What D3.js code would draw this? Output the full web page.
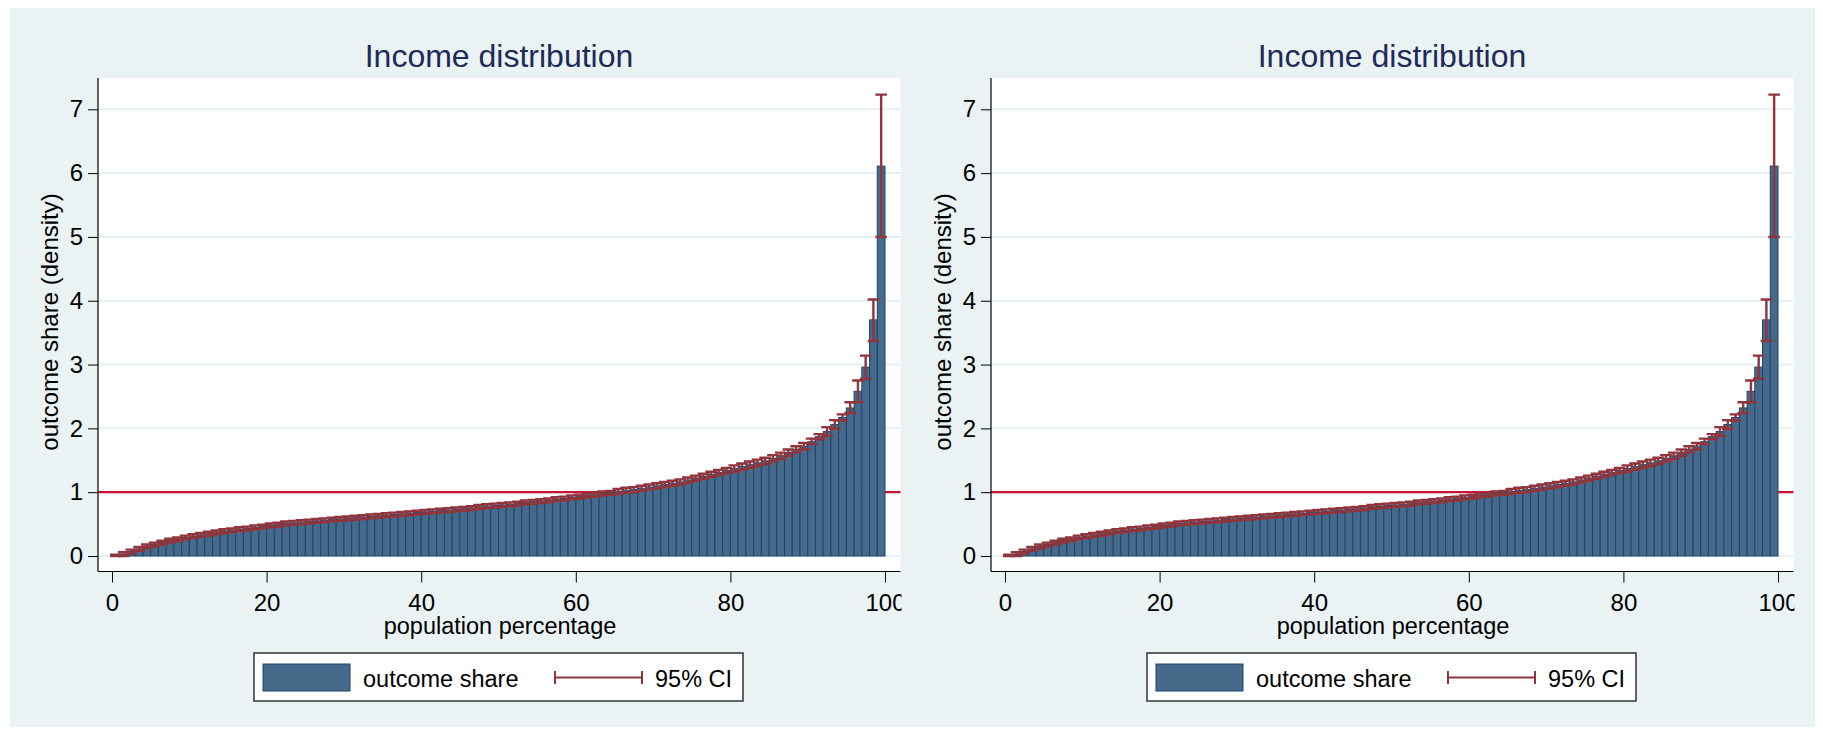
<!DOCTYPE html>
<html>
<head>
<meta charset="utf-8">
<script src="https://cdn.jsdelivr.net/npm/d3@7"></script>
<style>
    body { margin: 0; background: #fff; }
    svg text { font-family: "Liberation Sans", Arial, Helvetica, sans-serif; }
</style>
</head>
<body>
<div class="chart"></div>
<script>
(function(){

    // percentile groups 1..100 (bar i covers i-1 .. i)
    var percentiles = d3.range(1, 101);

    var outcomeShare = [
        0.00, 0.03, 0.07, 0.11, 0.15, 0.18, 0.21, 0.24, 0.26, 0.29,
        0.31, 0.33, 0.35, 0.37, 0.39, 0.40, 0.42, 0.43, 0.45, 0.46,
        0.48, 0.49, 0.51, 0.52, 0.53, 0.54, 0.55, 0.56, 0.57, 0.58,
        0.59, 0.60, 0.61, 0.62, 0.63, 0.64, 0.65, 0.66, 0.67, 0.68,
        0.69, 0.70, 0.71, 0.72, 0.73, 0.74, 0.75, 0.77, 0.78, 0.79,
        0.80, 0.81, 0.82, 0.84, 0.85, 0.86, 0.87, 0.89, 0.90, 0.92,
        0.93, 0.95, 0.96, 0.98, 0.99, 1.01, 1.03, 1.04, 1.06, 1.08,
        1.10, 1.12, 1.14, 1.16, 1.19, 1.22, 1.25, 1.28, 1.31, 1.34,
        1.37, 1.40, 1.43, 1.46, 1.49, 1.53, 1.57, 1.62, 1.67, 1.72,
        1.79, 1.87, 1.95, 2.06, 2.17, 2.32, 2.58, 2.96, 3.70, 6.11
    ];

    var ciLow = [
        0.00, 0.00, 0.04, 0.08, 0.12, 0.15, 0.18, 0.21, 0.23, 0.26,
        0.28, 0.30, 0.32, 0.34, 0.36, 0.37, 0.39, 0.40, 0.42, 0.43,
        0.45, 0.46, 0.48, 0.49, 0.50, 0.51, 0.52, 0.53, 0.54, 0.55,
        0.56, 0.57, 0.58, 0.59, 0.60, 0.61, 0.62, 0.63, 0.64, 0.65,
        0.66, 0.67, 0.68, 0.69, 0.70, 0.71, 0.72, 0.74, 0.75, 0.76,
        0.77, 0.78, 0.79, 0.81, 0.82, 0.83, 0.84, 0.86, 0.87, 0.89,
        0.90, 0.92, 0.93, 0.95, 0.96, 0.97, 0.99, 1.00, 1.02, 1.04,
        1.06, 1.08, 1.10, 1.12, 1.15, 1.18, 1.21, 1.24, 1.27, 1.30,
        1.32, 1.35, 1.38, 1.41, 1.44, 1.48, 1.52, 1.57, 1.62, 1.67,
        1.75, 1.83, 1.88, 1.99, 2.12, 2.24, 2.41, 2.78, 3.37, 5.00
    ];

    var ciHigh = [
        0.02, 0.06, 0.10, 0.14, 0.18, 0.21, 0.24, 0.27, 0.29, 0.32,
        0.34, 0.36, 0.38, 0.40, 0.42, 0.43, 0.45, 0.46, 0.48, 0.49,
        0.51, 0.52, 0.54, 0.55, 0.56, 0.57, 0.58, 0.59, 0.60, 0.61,
        0.62, 0.63, 0.64, 0.65, 0.66, 0.67, 0.68, 0.69, 0.70, 0.71,
        0.72, 0.73, 0.74, 0.75, 0.76, 0.77, 0.78, 0.80, 0.81, 0.82,
        0.83, 0.84, 0.85, 0.87, 0.88, 0.89, 0.90, 0.92, 0.93, 0.95,
        0.96, 0.98, 0.99, 1.01, 1.02, 1.05, 1.07, 1.08, 1.10, 1.12,
        1.14, 1.16, 1.18, 1.20, 1.23, 1.26, 1.29, 1.32, 1.35, 1.38,
        1.42, 1.45, 1.48, 1.51, 1.54, 1.58, 1.62, 1.67, 1.72, 1.77,
        1.84, 1.91, 2.02, 2.13, 2.22, 2.41, 2.75, 3.14, 4.02, 7.23
    ];

    var referenceLine = 1;
    var xTicks = [0, 20, 40, 60, 80, 100];
    var yTicks = [0, 1, 2, 3, 4, 5, 6, 7];

    var titleText = "Income distribution";
    var xTitleText = "population percentage";
    var yTitleText = "outcome share (density)";
    var legendLabels = ["outcome share", "95% CI"];

    // the two graphs are identical copies, side by side
    var panelOffsets = [0, 893];

    var W = 1823, H = 730;
    var barFill = "#476a8b", barLine = "#1a476f";
    var ciColor = "#90353b", refColor = "#cc1137";
    var bgColor = "#eaf2f3", gridColor = "#e6eff1";

    var data = percentiles.map(function(p, i){
        return {p: p, v: outcomeShare[i], lo: ciLow[i], hi: ciHigh[i]};
    });

    var svg = d3.select(".chart").append("svg")
        .attr("width", W)
        .attr("height", H);

    // graph region background
    svg.append("rect")
        .attr("x", 10).attr("y", 8)
        .attr("width", 1805).attr("height", 719)
        .attr("fill", bgColor);

    panelOffsets.forEach(function(off, k){ drawPanel(off, k); });

    function drawPanel(off, k){
        var plot = {left: 98, top: 78, right: 900.5, bottom: 571.5};
        var x = d3.scaleLinear().domain([0, 100]).range([112, 885]);
        var y = d3.scaleLinear().domain([0, 7]).range([556, 109.3]);

        var g = svg.append("g").attr("transform", "translate(" + off + ",0)");

        g.append("clipPath").attr("id", "clip" + k)
            .append("rect")
            .attr("x", 0).attr("y", 0)
            .attr("width", plot.right + 1).attr("height", H);

        var inner = g.append("g").attr("clip-path", "url(#clip" + k + ")");

        // plot region
        inner.append("rect")
            .attr("x", plot.left).attr("y", plot.top)
            .attr("width", plot.right - plot.left)
            .attr("height", plot.bottom - plot.top)
            .attr("fill", "#fff");

        // gridlines
        inner.append("g").selectAll("line").data(yTicks).enter()
            .append("line")
            .attr("x1", plot.left).attr("x2", plot.right)
            .attr("y1", function(d){ return y(d); })
            .attr("y2", function(d){ return y(d); })
            .attr("stroke", gridColor)
            .attr("stroke-width", 2);

        // reference line at 1 sits behind the bars
        inner.append("line")
            .attr("x1", plot.left).attr("x2", plot.right)
            .attr("y1", y(referenceLine)).attr("y2", y(referenceLine))
            .attr("stroke", refColor)
            .attr("stroke-width", 2.2);

        // bars
        inner.append("g").selectAll("rect").data(data).enter()
            .append("rect")
            .attr("x", function(d){ return x(d.p - 1); })
            .attr("y", function(d){ return y(d.v); })
            .attr("width", x(1) - x(0))
            .attr("height", function(d){ return y(0) - y(d.v); })
            .attr("fill", barFill)
            .attr("stroke", barLine)
            .attr("stroke-width", 1);

        // confidence intervals
        var capHalf = x(0.75) - x(0);
        var ci = inner.append("g")
            .attr("stroke", ciColor)
            .attr("stroke-width", 2.4)
            .attr("fill", "none");
        ci.selectAll("path").data(data).enter()
            .append("path")
            .attr("d", function(d){
                var cx = x(d.p - 0.5), y0 = y(d.lo), y1 = y(d.hi);
                return "M" + (cx - capHalf) + "," + y0 + "H" + (cx + capHalf) +
                       "M" + (cx - capHalf) + "," + y1 + "H" + (cx + capHalf) +
                       "M" + cx + "," + y0 + "V" + y1;
            });

        // axes
        var yAxis = inner.append("g")
            .attr("transform", "translate(" + plot.left + ",0)")
            .call(d3.axisLeft(y).tickValues(yTicks).tickFormat(d3.format("d"))
                .tickSize(10).tickPadding(5));
        var xAxis = inner.append("g")
            .attr("transform", "translate(0," + plot.bottom + ")")
            .call(d3.axisBottom(x).tickValues(xTicks).tickFormat(d3.format("d"))
                .tickSize(11).tickPadding(11));

        [yAxis, xAxis].forEach(function(a){
            a.select(".domain").remove();
            a.selectAll(".tick line").attr("stroke", "#000");
            a.selectAll(".tick text")
                .attr("fill", "#000")
                .style("font-size", "24px");
        });

        inner.append("line")
            .attr("x1", plot.left).attr("x2", plot.left)
            .attr("y1", plot.top).attr("y2", plot.bottom)
            .attr("stroke", "#000").attr("stroke-width", 1.2);
        inner.append("line")
            .attr("x1", plot.left).attr("x2", plot.right)
            .attr("y1", plot.bottom).attr("y2", plot.bottom)
            .attr("stroke", "#000").attr("stroke-width", 1.2);

        // titles
        g.append("text")
            .attr("x", 499).attr("y", 67)
            .attr("text-anchor", "middle")
            .attr("fill", "#1c2b5a")
            .style("font-size", "32px")
            .text(titleText);

        g.append("text")
            .attr("x", 500).attr("y", 634)
            .attr("text-anchor", "middle")
            .attr("fill", "#000")
            .style("font-size", "23.5px")
            .text(xTitleText);

        g.append("text")
            .attr("transform", "translate(58,322) rotate(-90)")
            .attr("text-anchor", "middle")
            .attr("fill", "#000")
            .style("font-size", "24px")
            .text(yTitleText);

        // legend
        var lg = g.append("g");
        lg.append("rect")
            .attr("x", 254).attr("y", 653)
            .attr("width", 489).attr("height", 48)
            .attr("fill", "#fff")
            .attr("stroke", "#333")
            .attr("stroke-width", 1.5);
        lg.append("rect")
            .attr("x", 263).attr("y", 664)
            .attr("width", 87).attr("height", 27)
            .attr("fill", barFill)
            .attr("stroke", barLine)
            .attr("stroke-width", 1);
        lg.append("text")
            .attr("x", 363).attr("y", 687)
            .style("font-size", "23.5px")
            .text(legendLabels[0]);
        lg.append("path")
            .attr("d", "M555,671V684M555,677.5H642M642,671V684")
            .attr("stroke", ciColor)
            .attr("stroke-width", 2)
            .attr("fill", "none");
        lg.append("text")
            .attr("x", 655).attr("y", 687)
            .style("font-size", "23.5px")
            .text(legendLabels[1]);
    }

}());
</script>
</body>
</html>
